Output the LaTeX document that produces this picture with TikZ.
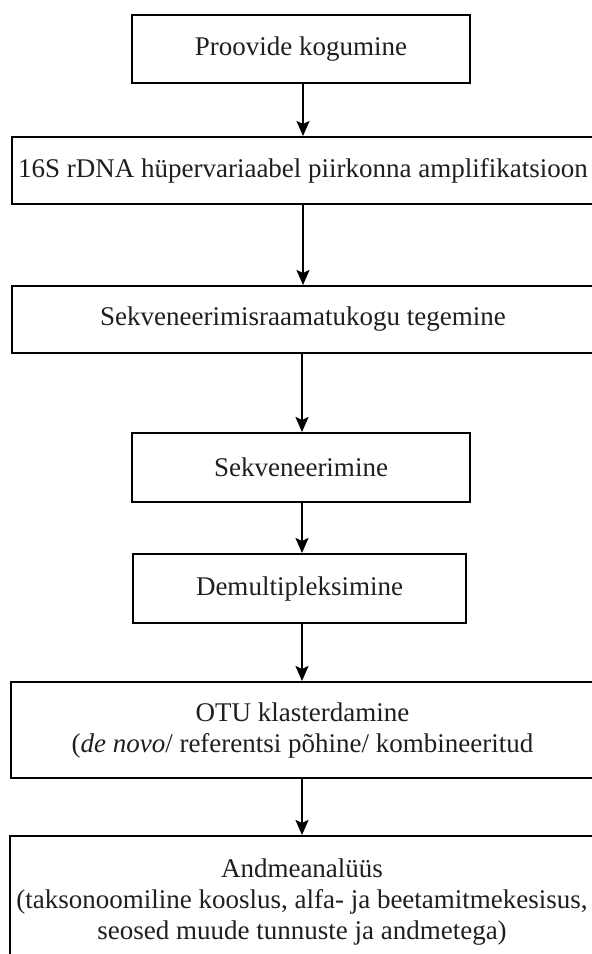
\documentclass[tikz,border=0pt]{standalone}
\usepackage{fontspec}
\setmainfont{Liberation Serif}
\usetikzlibrary{arrows.meta}
\begin{document}
\begin{tikzpicture}[x=1pt,y=-1pt,
  box/.style={draw=black, line width=2pt, inner sep=0pt, rectangle,
    font=\fontsize{27}{31}\selectfont, align=center, text=black!88},
  conn/.style={draw=black, line width=2pt, -{Stealth[length=15pt,width=13pt,inset=3pt]}}]
\useasboundingbox (0,0) rectangle (592,954);
\clip (0,0) rectangle (592,954);
\fill[white] (0,0) rectangle (592,954);

\node[box, minimum width=338pt, minimum height=68pt] (b1) at (301,49) {Proovide kogumine};
\node[box, minimum width=582pt, minimum height=67pt] (b2) at (303,170.5) {16S rDNA hüpervariaabel piirkonna amplifikatsioon};
\node[box, minimum width=582pt, minimum height=67pt] (b3) at (303,319.5) {Sekveneerimisraamatukogu tegemine};
\node[box, minimum width=338pt, minimum height=69pt] (b4) at (301,467.5) {Sekveneerimine};
\node[box, minimum width=333pt, minimum height=69pt] (b5) at (299.5,588.5) {Demultipleksimine};
\node[box, minimum width=583pt, minimum height=96pt] (b6) at (302.5,730) {OTU klasterdamine\\(\textit{de novo}/ referentsi põhine/ kombineeritud};
\node[box, minimum width=584pt, minimum height=132pt] (b7) at (302,902) {Andmeanalüüs\\(taksonoomiline kooslus, alfa- ja beetamitmekesisus,\\seosed muude tunnuste ja andmetega)};

\coordinate (xa) at (303,0);
\coordinate (xb) at (302,0);
\draw[conn] (b1.south -| xa) -- (b2.north -| xa);
\draw[conn] (b2.south -| xa) -- (b3.north -| xa);
\draw[conn] (b3.south -| xb) -- (b4.north -| xb);
\draw[conn] (b4.south -| xb) -- (b5.north -| xb);
\draw[conn] (b5.south -| xb) -- (b6.north -| xb);
\draw[conn] (b6.south -| xb) -- (b7.north -| xb);
\end{tikzpicture}
\end{document}
